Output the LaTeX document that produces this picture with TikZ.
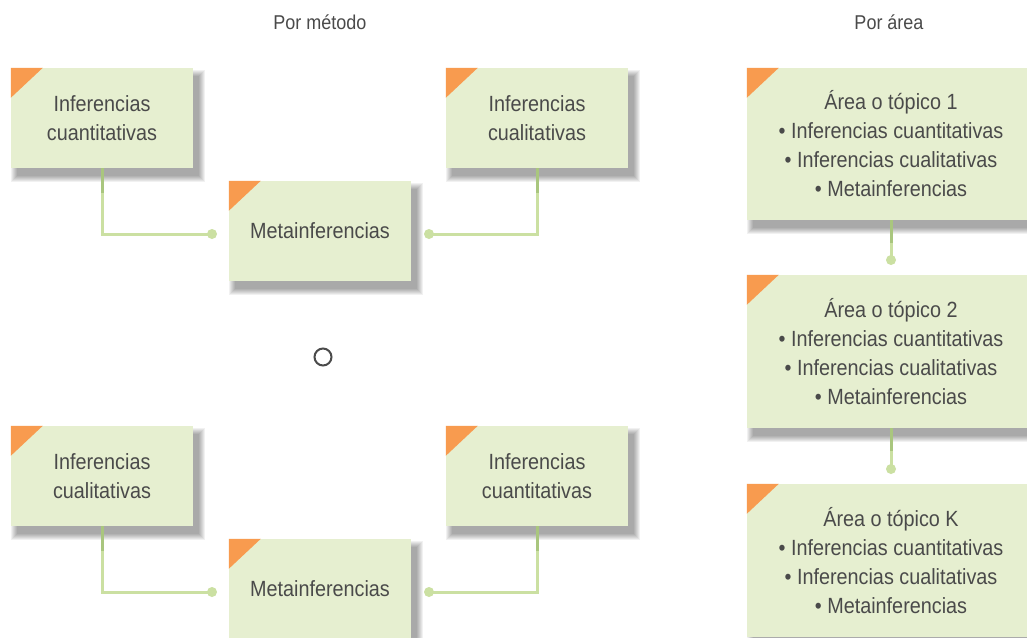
\documentclass[tikz,border=0pt]{standalone}
\usepackage{fontspec}
\setmainfont{Liberation Sans}[FakeStretch=0.9]
\usetikzlibrary{backgrounds}
\definecolor{boxgreen}{HTML}{E6EFD0}
\definecolor{txt}{HTML}{4A4A4A}
\definecolor{corner}{HTML}{F89B4F}
\definecolor{conn}{HTML}{CBE0A2}
\definecolor{stubc}{HTML}{A9C67E}
\begin{document}
\begin{tikzpicture}[x=1pt,y=-1pt,
  box/.style={fill=boxgreen, minimum width=182pt, minimum height=100pt, inner sep=0pt,
    align=center, text=txt, font=\fontsize{22}{29}\selectfont},
  wide/.style={box, minimum width=288pt, minimum height=153pt},
  conn/.style={draw=conn, line width=3pt},
  stub/.style={draw=stubc, line width=3pt},
  dot/.style={fill=conn},
  shade/.style={fill=black, fill opacity=0.055},
  title/.style={text=txt, font=\fontsize{20}{24}\selectfont}]
\clip (0,0) rectangle (1027,637);
\newcommand{\corner}[1]{\fill[corner] (#1.north west) -- ++(32,0) -- ++(-32,30) -- cycle;}
\newcommand{\softshadow}[1]{\foreach \k in {0,1,2,3,4,5,6}{\fill[shade] ([shift={(6-\k,8-\k)}]#1.north west) rectangle ([shift={(6+\k,8+\k)}]#1.south east);}}
% titles
\node[title] (t1) at (320,22) {Por método};
\node[title] (t2) at (889,22) {Por área};
% top row
\node[box] (tl) at (102,118) {Inferencias\\cuantitativas};
\node[box] (tm) at (320,231) {Metainferencias};
\node[box] (tr) at (537,118) {Inferencias\\cualitativas};
\corner{tl}\corner{tm}\corner{tr}
\coordinate (d1) at (212,234);
\coordinate (d2) at (429,234);
\draw[conn] (tl.south) |- (d1);
\draw[conn] (tr.south) |- (d2);
\draw[stub] (tl.south) -- ++(0,25);
\draw[stub] (tr.south) -- ++(0,25);
\fill[dot] (d1) circle (5);
\fill[dot] (d2) circle (5);
% or
\node[draw=txt, line width=2pt, circle, minimum size=17pt, inner sep=0pt] (or) at (323,357) {};
% bottom row
\node[box] (bl) at (102,476) {Inferencias\\cualitativas};
\node[box] (bm) at (320,589) {Metainferencias};
\node[box] (br) at (537,476) {Inferencias\\cuantitativas};
\corner{bl}\corner{bm}\corner{br}
\coordinate (d3) at (212,592);
\coordinate (d4) at (429,592);
\draw[conn] (bl.south) |- (d3);
\draw[conn] (br.south) |- (d4);
\draw[stub] (bl.south) -- ++(0,25);
\draw[stub] (br.south) -- ++(0,25);
\fill[dot] (d3) circle (5);
\fill[dot] (d4) circle (5);
% right column
\node[wide, minimum height=152pt] (r1) at (891,144) {Área o tópico 1\\• Inferencias cuantitativas\\• Inferencias cualitativas\\• Metainferencias};
\node[wide] (r2) at (891,351.5) {Área o tópico 2\\• Inferencias cuantitativas\\• Inferencias cualitativas\\• Metainferencias};
\node[wide] (r3) at (891,560.5) {Área o tópico K\\• Inferencias cuantitativas\\• Inferencias cualitativas\\• Metainferencias};
\corner{r1}\corner{r2}\corner{r3}
\coordinate (d5) at (891,260);
\coordinate (d6) at (891,469);
\draw[conn] (r1.south) -- (d5);
\draw[conn] (r2.south) -- (d6);
\draw[stub] (r1.south) -- ++(0,23);
\draw[stub] (r2.south) -- ++(0,23);
\fill[dot] (d5) circle (5);
\fill[dot] (d6) circle (5);
% shadows
\begin{pgfonlayer}{background}
\fill[white] (0,0) rectangle (1027,637);
\softshadow{tl}\softshadow{tm}\softshadow{tr}
\softshadow{bl}\softshadow{bm}\softshadow{br}
\softshadow{r1}\softshadow{r2}\softshadow{r3}
\end{pgfonlayer}
\end{tikzpicture}
\end{document}
